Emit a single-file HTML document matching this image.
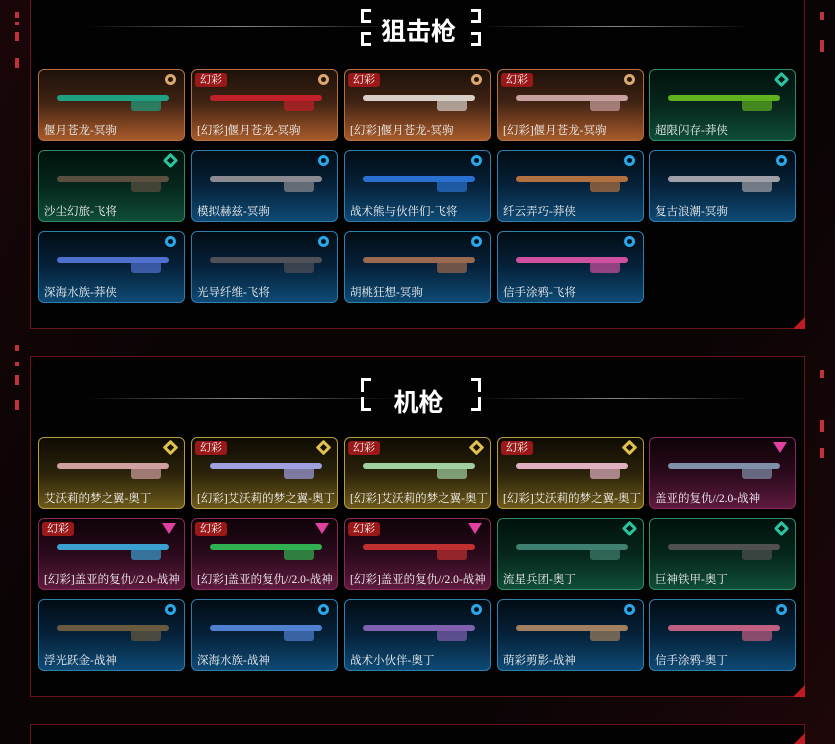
<!DOCTYPE html>
<html style="width:835px;height:744px;overflow:hidden"><head><meta charset="utf-8"><style>
*{margin:0;padding:0;box-sizing:border-box}
body{width:835px;height:744px;background:#0b0506;position:relative;overflow:hidden;font-family:"Liberation Serif","Noto Serif CJK SC",serif;color:#eee}
.bgstripe{position:absolute;left:0;top:0;width:835px;height:744px;background:linear-gradient(120deg,#1a0608 0%,#0a0405 30%,#0a0405 70%,#1e0709 100%)}
.panel{position:absolute;left:30px;width:775px;background:#020202;border:1px solid #6a1418}
.panel:after{content:"";position:absolute;right:-1px;bottom:-1px;width:0;height:0;border-left:12px solid transparent;border-bottom:12px solid #c21a22}
.title{position:absolute;left:0;width:775px;text-align:center;font-family:"Noto Sans CJK SC",sans-serif;font-weight:bold;font-size:25px;color:#fff}
.line{position:absolute;height:1px;background:linear-gradient(90deg,transparent,#888,transparent)}
.br{position:absolute;width:10px;height:14px;border:3px solid #fff}
.card{position:absolute;width:147px;height:72px;border-radius:6px;border:1px solid;overflow:hidden}
.o{border-color:#b5703f;background:linear-gradient(#1d110a 0%,#3e2213 45%,#a85a2a 100%)}
.g{border-color:#2f8a6a;background:linear-gradient(#02120d 0%,#06261c 50%,#0f4d38 100%)}
.b{border-color:#2e7fb0;background:linear-gradient(#020c14 0%,#06223a 50%,#0e4a75 100%)}
.y{border-color:#b89a40;background:linear-gradient(#0e0b03 0%,#2a220a 50%,#6c5a1a 100%)}
.p{border-color:#8a2a5a;background:linear-gradient(#0e0308 0%,#2a0a1c 50%,#5e1a3e 100%)}
.lab{position:absolute;left:5px;bottom:2px;font-size:11.5px;color:#f2f2f2;white-space:nowrap}
.tag{position:absolute;left:3px;top:3px;background:#9a1818;color:#fff;font-size:11px;padding:0 5px;border-radius:3px;line-height:14px}
.ic{position:absolute;right:8px;top:4px;width:11px;height:11px;border:3px solid;border-radius:50%}
.o .ic{border-color:#d9a870}.g .ic{border-color:#2ac4a0;transform:rotate(45deg);border-radius:2px}
.b .ic{border-color:#29a8e8}.y .ic{border-color:#e0c050;transform:rotate(45deg);border-radius:1px}
.p .ic{border:none;width:0;height:0;border-left:7px solid transparent;border-right:7px solid transparent;border-top:11px solid #e040a0;border-radius:0}
.gun{position:absolute;left:18px;top:25px;width:112px;height:6px;border-radius:3px}
.gun:after{content:"";position:absolute;right:8px;top:4px;width:30px;height:12px;background:inherit;border-radius:3px;opacity:.7}
.ln{position:absolute;left:15px;width:4px;background:#c0323a}
</style></head><body>
<div class="bgstripe"></div>
<div class="ln" style="top:12px;height:6px"></div><div class="ln" style="top:22px;height:3px"></div><div class="ln" style="top:32px;height:9px"></div><div class="ln" style="top:58px;height:10px"></div>
<div class="ln" style="top:345px;height:6px"></div><div class="ln" style="top:362px;height:4px"></div><div class="ln" style="top:375px;height:10px"></div><div class="ln" style="top:400px;height:10px"></div>
<div class="ln" style="left:820px;top:12px;height:8px"></div><div class="ln" style="left:820px;top:40px;height:12px"></div>
<div class="ln" style="left:820px;top:370px;height:8px"></div><div class="ln" style="left:820px;top:420px;height:12px"></div><div class="ln" style="left:820px;top:448px;height:10px"></div>

<div class="panel" style="top:-2px;height:331px">
 <div class="line" style="left:55px;top:27px;width:310px"></div><div class="line" style="left:450px;top:27px;width:270px"></div>
 <div class="br" style="left:330px;top:10px;border-right:none"></div><div class="br" style="left:330px;top:33px;border-right:none"></div>
 <div class="br" style="left:440px;top:10px;border-left:none"></div><div class="br" style="left:440px;top:33px;border-left:none"></div>
 <div class="title" style="top:13px">狙击枪</div>
</div>
<div class="panel" style="top:356px;height:341px">
 <div class="line" style="left:55px;top:41px;width:310px"></div><div class="line" style="left:450px;top:41px;width:270px"></div>
 <div class="br" style="left:330px;top:21px;border-right:none;border-bottom:none"></div><div class="br" style="left:330px;top:40px;border-right:none;border-top:none"></div>
 <div class="br" style="left:440px;top:21px;border-left:none;border-bottom:none"></div><div class="br" style="left:440px;top:40px;border-left:none;border-top:none"></div>
 <div class="title" style="top:26px">机枪</div>
</div>
<div class="panel" style="top:724px;height:20px;border-bottom:none"></div>

<div class="card o" style="left:38px;top:69px"><div class="ic"></div><div class="gun" style="background:#1fa080"></div><div class="lab">偃月苍龙-冥驹</div></div>
<div class="card o" style="left:191px;top:69px"><span class="tag">幻彩</span><div class="ic"></div><div class="gun" style="background:#c0202a"></div><div class="lab">[幻彩]偃月苍龙-冥驹</div></div>
<div class="card o" style="left:344px;top:69px"><span class="tag">幻彩</span><div class="ic"></div><div class="gun" style="background:#d8d0c8"></div><div class="lab">[幻彩]偃月苍龙-冥驹</div></div>
<div class="card o" style="left:497px;top:69px"><span class="tag">幻彩</span><div class="ic"></div><div class="gun" style="background:#c8a0a0"></div><div class="lab">[幻彩]偃月苍龙-冥驹</div></div>
<div class="card g" style="left:649px;top:69px"><div class="ic"></div><div class="gun" style="background:#60b020"></div><div class="lab">超限闪存-莽侠</div></div>
<div class="card g" style="left:38px;top:150px"><div class="ic"></div><div class="gun" style="background:#5a5040"></div><div class="lab">沙尘幻旅-飞将</div></div>
<div class="card b" style="left:191px;top:150px"><div class="ic"></div><div class="gun" style="background:#8a8a90"></div><div class="lab">模拟赫兹-冥驹</div></div>
<div class="card b" style="left:344px;top:150px"><div class="ic"></div><div class="gun" style="background:#2a70d0"></div><div class="lab">战术熊与伙伴们-飞将</div></div>
<div class="card b" style="left:497px;top:150px"><div class="ic"></div><div class="gun" style="background:#b07040"></div><div class="lab">纤云弄巧-莽侠</div></div>
<div class="card b" style="left:649px;top:150px"><div class="ic"></div><div class="gun" style="background:#a0a0a8"></div><div class="lab">复古浪潮-冥驹</div></div>
<div class="card b" style="left:38px;top:231px"><div class="ic"></div><div class="gun" style="background:#5070d0"></div><div class="lab">深海水族-莽侠</div></div>
<div class="card b" style="left:191px;top:231px"><div class="ic"></div><div class="gun" style="background:#505058"></div><div class="lab">光导纤维-飞将</div></div>
<div class="card b" style="left:344px;top:231px"><div class="ic"></div><div class="gun" style="background:#9a6a50"></div><div class="lab">胡桃狂想-冥驹</div></div>
<div class="card b" style="left:497px;top:231px"><div class="ic"></div><div class="gun" style="background:#d050a0"></div><div class="lab">信手涂鸦-飞将</div></div>

<div class="card y" style="left:38px;top:437px"><div class="ic"></div><div class="gun" style="background:#d0a0a0"></div><div class="lab">艾沃莉的梦之翼-奥丁</div></div>
<div class="card y" style="left:191px;top:437px"><span class="tag">幻彩</span><div class="ic"></div><div class="gun" style="background:#a0a0e0"></div><div class="lab">[幻彩]艾沃莉的梦之翼-奥丁</div></div>
<div class="card y" style="left:344px;top:437px"><span class="tag">幻彩</span><div class="ic"></div><div class="gun" style="background:#a0d0a0"></div><div class="lab">[幻彩]艾沃莉的梦之翼-奥丁</div></div>
<div class="card y" style="left:497px;top:437px"><span class="tag">幻彩</span><div class="ic"></div><div class="gun" style="background:#e0b0c0"></div><div class="lab">[幻彩]艾沃莉的梦之翼-奥丁</div></div>
<div class="card p" style="left:649px;top:437px"><div class="ic"></div><div class="gun" style="background:#8090a8"></div><div class="lab">盖亚的复仇//2.0-战神</div></div>
<div class="card p" style="left:38px;top:518px"><span class="tag">幻彩</span><div class="ic"></div><div class="gun" style="background:#3aa0d0"></div><div class="lab">[幻彩]盖亚的复仇//2.0-战神</div></div>
<div class="card p" style="left:191px;top:518px"><span class="tag">幻彩</span><div class="ic"></div><div class="gun" style="background:#30b050"></div><div class="lab">[幻彩]盖亚的复仇//2.0-战神</div></div>
<div class="card p" style="left:344px;top:518px"><span class="tag">幻彩</span><div class="ic"></div><div class="gun" style="background:#c03030"></div><div class="lab">[幻彩]盖亚的复仇//2.0-战神</div></div>
<div class="card g" style="left:497px;top:518px"><div class="ic"></div><div class="gun" style="background:#408070"></div><div class="lab">流星兵团-奥丁</div></div>
<div class="card g" style="left:649px;top:518px"><div class="ic"></div><div class="gun" style="background:#505050"></div><div class="lab">巨神铁甲-奥丁</div></div>
<div class="card b" style="left:38px;top:599px"><div class="ic"></div><div class="gun" style="background:#6a5a40"></div><div class="lab">浮光跃金-战神</div></div>
<div class="card b" style="left:191px;top:599px"><div class="ic"></div><div class="gun" style="background:#5080d0"></div><div class="lab">深海水族-战神</div></div>
<div class="card b" style="left:344px;top:599px"><div class="ic"></div><div class="gun" style="background:#8060b0"></div><div class="lab">战术小伙伴-奥丁</div></div>
<div class="card b" style="left:497px;top:599px"><div class="ic"></div><div class="gun" style="background:#a08060"></div><div class="lab">萌彩剪影-战神</div></div>
<div class="card b" style="left:649px;top:599px"><div class="ic"></div><div class="gun" style="background:#c06080"></div><div class="lab">信手涂鸦-奥丁</div></div>
</body></html>
